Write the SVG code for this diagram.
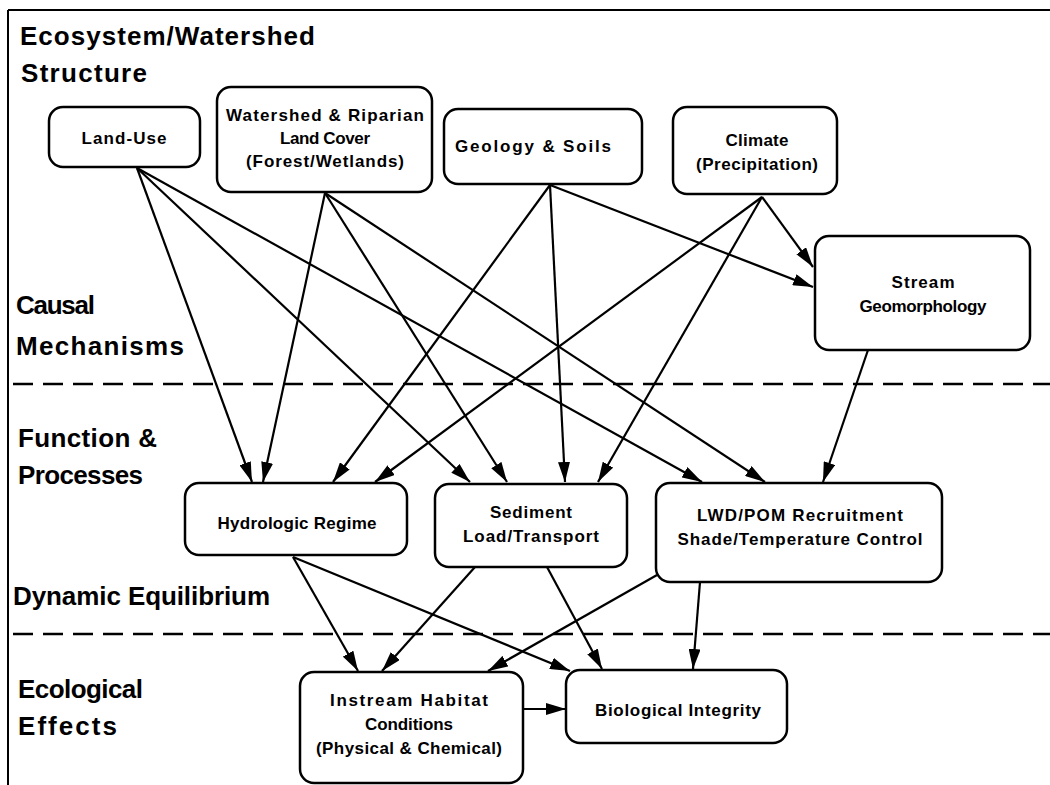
<svg xmlns="http://www.w3.org/2000/svg" width="1050" height="785" viewBox="0 0 1050 785">
<defs>
<style>
.box{fill:#fff;stroke:#000;stroke-width:2.5}
.t{font-family:"Liberation Sans",Arial,sans-serif;font-weight:bold;font-size:17px;fill:#000;text-anchor:middle}
.h{font-family:"Liberation Sans",Arial,sans-serif;font-weight:bold;font-size:26px;fill:#000}
.c line{stroke:#000;stroke-width:2.2;marker-end:url(#ah)}
.dash{stroke:#000;stroke-width:2.5;stroke-dasharray:20 10}
</style>
<marker id="ah" markerUnits="userSpaceOnUse" markerWidth="20" markerHeight="12" refX="20" refY="6" orient="auto">
<path d="M0,0 L20,6 L0,12 z" fill="#000"/>
</marker>
</defs>
<rect x="0" y="0" width="1050" height="785" fill="#fff"/>
<g id="frame" stroke="#000" stroke-width="2" fill="none">
<line x1="8" y1="10" x2="1050" y2="10"/>
<line x1="8" y1="10" x2="8" y2="785"/>
</g>
<g id="dividers">
<line class="dash" x1="13" y1="384" x2="1050" y2="384"/>
<line class="dash" x1="13" y1="634" x2="1050" y2="634"/>
</g>
<g id="section-labels">
<text class="h" x="20" y="45" textLength="295">Ecosystem/Watershed</text>
<text class="h" x="21" y="82" textLength="126">Structure</text>
<text class="h" x="16" y="314" textLength="79">Causal</text>
<text class="h" x="16" y="355" textLength="168">Mechanisms</text>
<text class="h" x="18" y="447" textLength="139">Function &amp;</text>
<text class="h" x="18" y="484" textLength="125">Processes</text>
<text class="h" x="13" y="605" textLength="257">Dynamic Equilibrium</text>
<text class="h" x="18" y="698" textLength="125">Ecological</text>
<text class="h" x="18" y="735" textLength="99">Effects</text>
</g>
<g id="connectors" class="c">
<line x1="137" y1="168" x2="252" y2="482"/>
<line x1="137" y1="168" x2="470" y2="482"/>
<line x1="137" y1="168" x2="702" y2="482"/>
<line x1="325" y1="193" x2="263" y2="482"/>
<line x1="325" y1="193" x2="507" y2="482"/>
<line x1="325" y1="193" x2="765" y2="482"/>
<line x1="550" y1="185" x2="333" y2="482"/>
<line x1="550" y1="185" x2="565" y2="482"/>
<line x1="550" y1="185" x2="813" y2="287"/>
<line x1="762" y1="197" x2="375" y2="482"/>
<line x1="762" y1="197" x2="598" y2="482"/>
<line x1="762" y1="197" x2="813" y2="267"/>
<line x1="868" y1="350" x2="823" y2="482"/>
<line x1="293" y1="557" x2="358" y2="671"/>
<line x1="293" y1="557" x2="570" y2="671"/>
<line x1="475" y1="567" x2="382" y2="671"/>
<line x1="547" y1="567" x2="602" y2="669"/>
<line x1="657" y1="575" x2="488" y2="671"/>
<line x1="700" y1="582" x2="693" y2="669"/>
<line x1="523" y1="709" x2="566" y2="709"/>
</g>
<g id="land-use">
<rect class="box" x="49" y="107" width="151" height="60" rx="14"/>
<text class="t" x="124" y="144" textLength="85">Land-Use</text>
</g>
<g id="land-cover">
<rect class="box" x="217" y="87" width="215" height="105" rx="14"/>
<text class="t" x="325" y="121" textLength="198">Watershed &amp; Riparian</text>
<text class="t" x="325" y="144" textLength="90">Land Cover</text>
<text class="t" x="325" y="167" textLength="158">(Forest/Wetlands)</text>
</g>
<g id="geology">
<rect class="box" x="444" y="109" width="198" height="75" rx="14"/>
<text class="t" x="533" y="152" textLength="156">Geology &amp; Soils</text>
</g>
<g id="climate">
<rect class="box" x="673" y="107" width="164" height="87" rx="14"/>
<text class="t" x="757" y="146" textLength="63">Climate</text>
<text class="t" x="757" y="170" textLength="122">(Precipitation)</text>
</g>
<g id="stream-geomorphology">
<rect class="box" x="815" y="236" width="215" height="114" rx="14"/>
<text class="t" x="923" y="288" textLength="63">Stream</text>
<text class="t" x="923" y="312" textLength="127">Geomorphology</text>
</g>
<g id="hydrologic-regime">
<rect class="box" x="185" y="483" width="222" height="72" rx="14"/>
<text class="t" x="297" y="529" textLength="159">Hydrologic Regime</text>
</g>
<g id="sediment">
<rect class="box" x="435" y="484" width="192" height="83" rx="14"/>
<text class="t" x="531" y="518" textLength="82">Sediment</text>
<text class="t" x="531" y="542" textLength="136">Load/Transport</text>
</g>
<g id="lwd-pom">
<rect class="box" x="656" y="483" width="286" height="99" rx="14"/>
<text class="t" x="800" y="521" textLength="206">LWD/POM Recruitment</text>
<text class="t" x="800" y="545" textLength="245">Shade/Temperature Control</text>
</g>
<g id="instream-habitat">
<rect class="box" x="300" y="672" width="223" height="111" rx="14"/>
<text class="t" x="409" y="706" textLength="158">Instream Habitat</text>
<text class="t" x="409" y="730" textLength="88">Conditions</text>
<text class="t" x="409" y="754" textLength="186">(Physical &amp; Chemical)</text>
</g>
<g id="biological-integrity">
<rect class="box" x="566" y="670" width="221" height="73" rx="14"/>
<text class="t" x="678" y="716" textLength="166">Biological Integrity</text>
</g>
</svg>
